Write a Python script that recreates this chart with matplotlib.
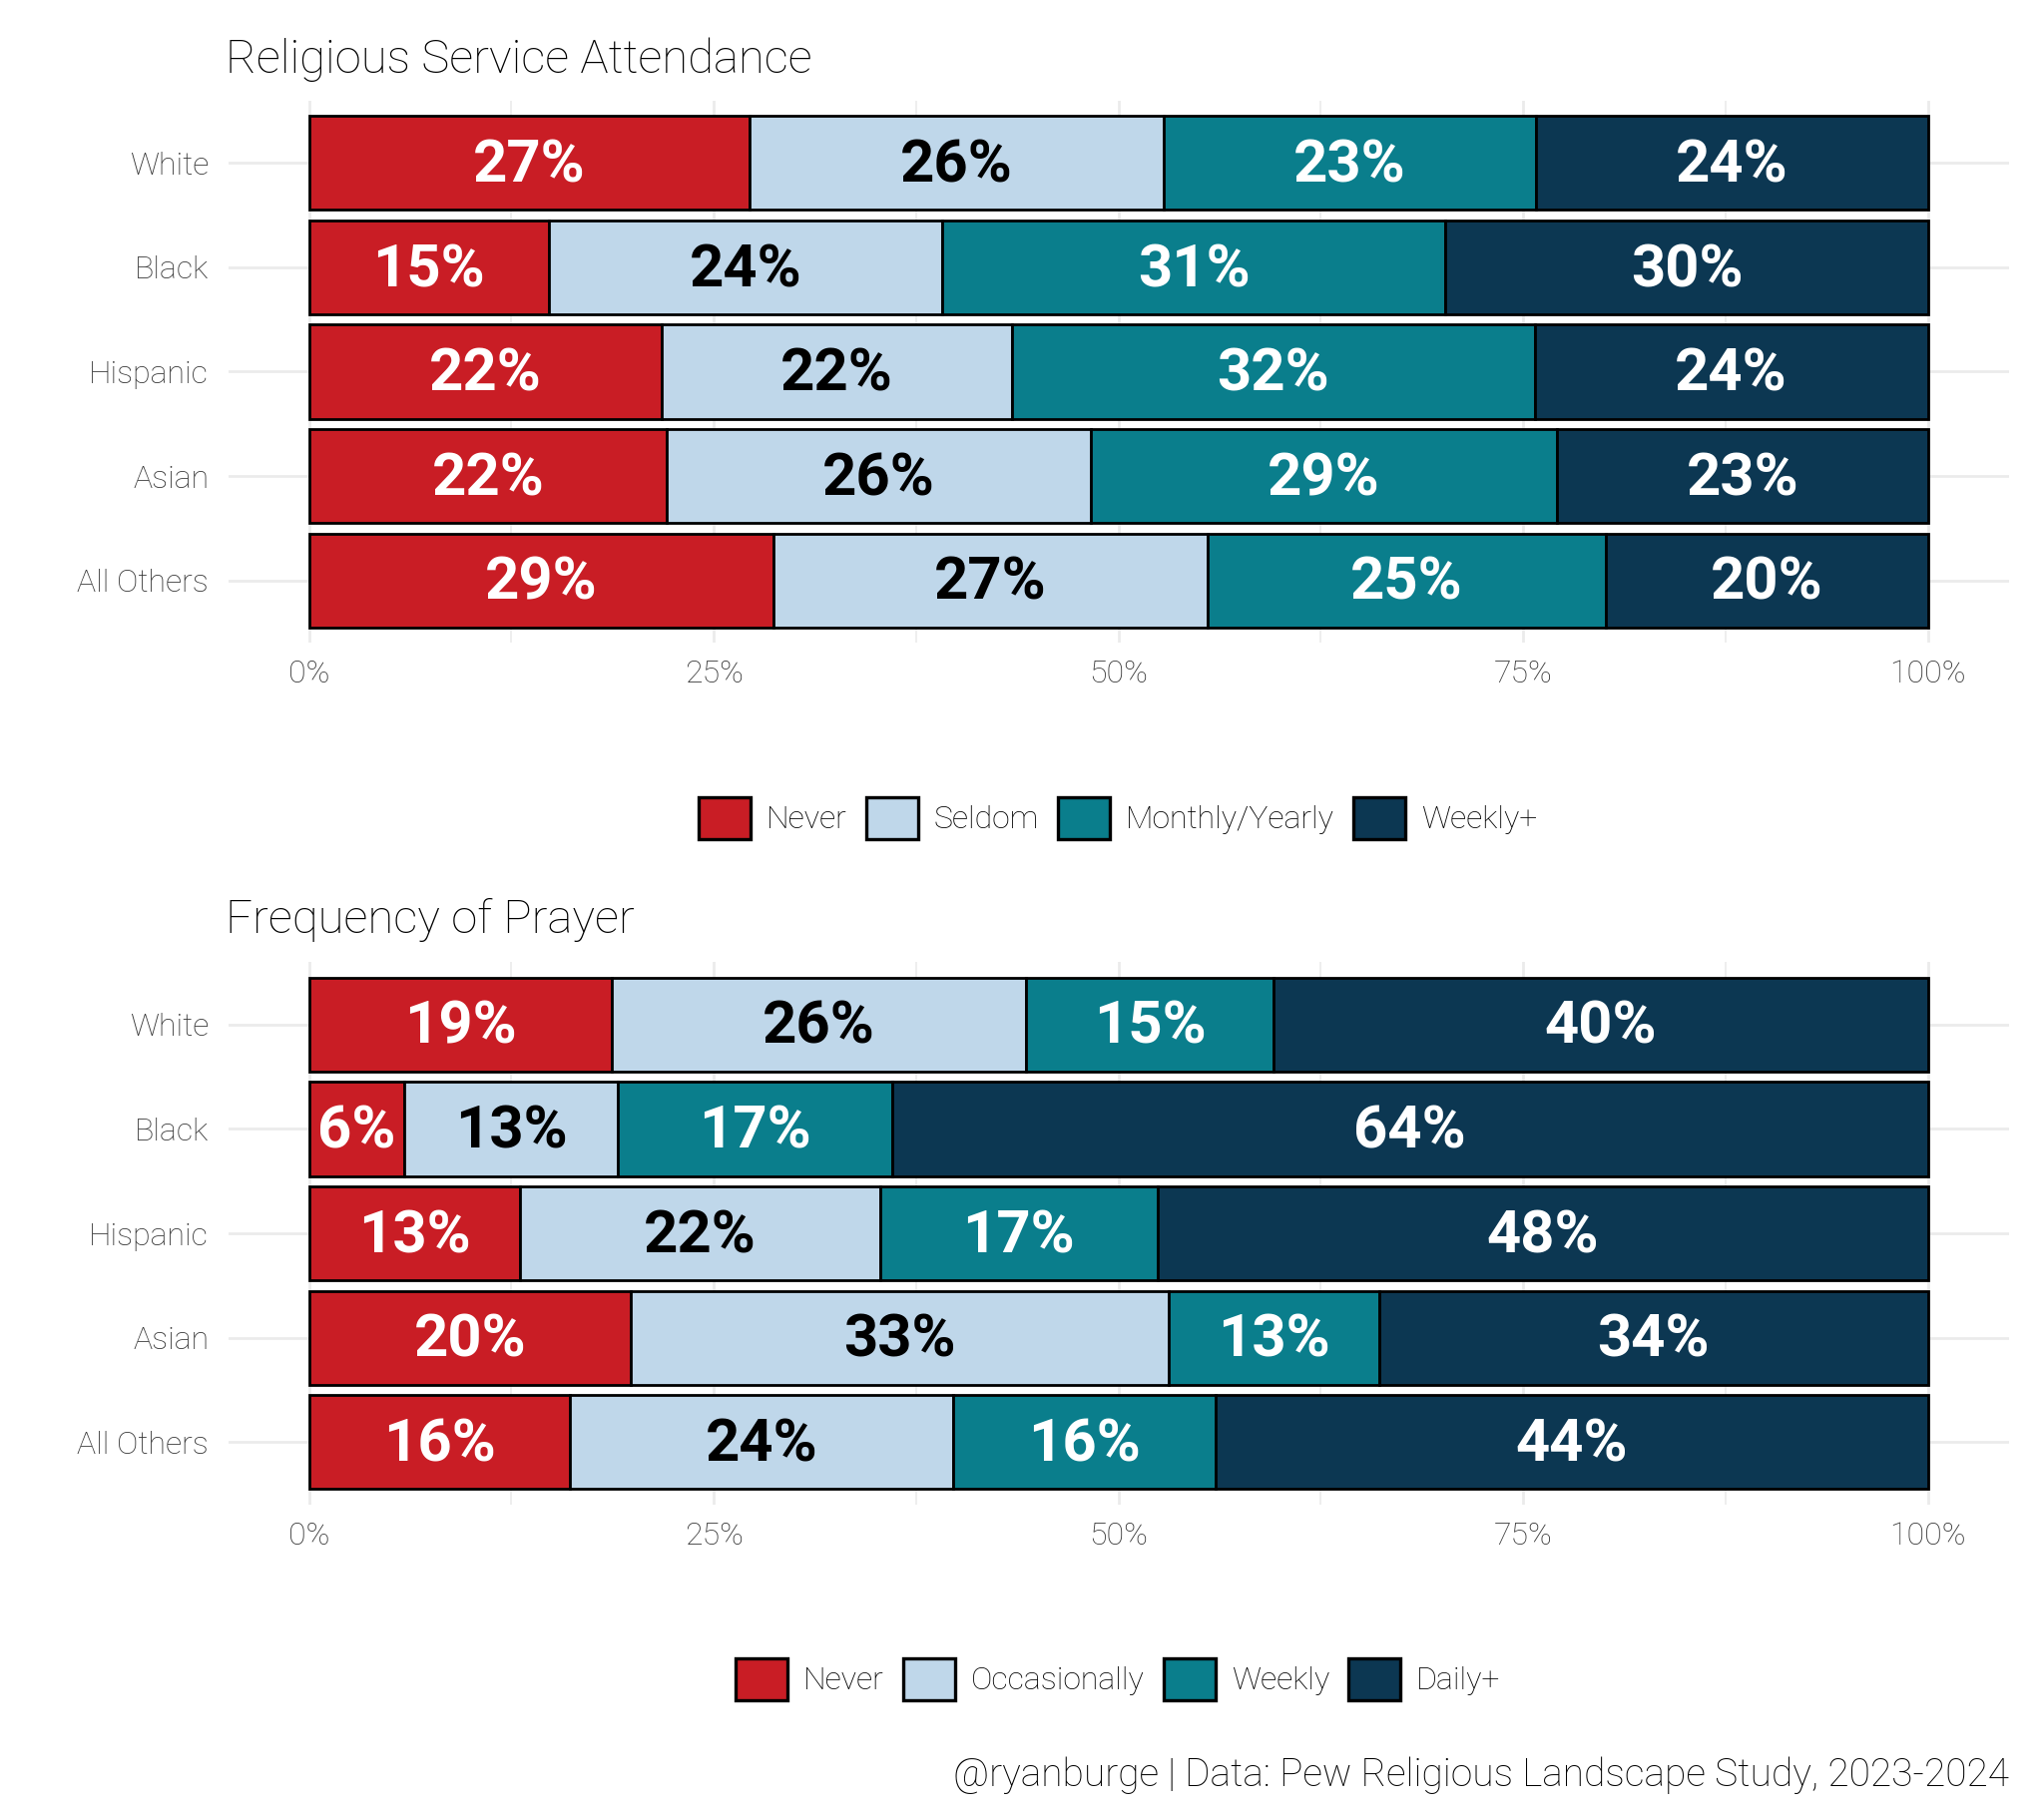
import matplotlib
matplotlib.use("Agg")
import matplotlib.pyplot as plt
from matplotlib.patches import Patch
import numpy as np

plt.rcParams['font.family'] = ['Roboto', 'DejaVu Sans']

groups = ["White", "Black", "Hispanic", "Asian", "All Others"]

attend_labels = ["Never", "Seldom", "Monthly/Yearly", "Weekly+"]
attend_never = [27.2, 14.8, 21.8, 22.1, 28.7]
attend_seldom = [25.6, 24.3, 21.6, 26.2, 26.8]
attend_monthly = [23.0, 31.1, 32.3, 28.8, 24.6]
attend_weekly = [24.2, 29.8, 24.3, 22.9, 19.9]

prayer_labels = ["Never", "Occasionally", "Weekly", "Daily+"]
prayer_never = [18.7, 5.9, 13.0, 19.9, 16.1]
prayer_occas = [25.6, 13.2, 22.3, 33.2, 23.7]
prayer_weekly = [15.3, 16.9, 17.1, 13.0, 16.2]
prayer_daily = [40.4, 64.0, 47.6, 33.9, 44.0]

x_ticks = [0, 0.25, 0.5, 0.75, 1.0]
x_ticklabels = ["0%", "25%", "50%", "75%", "100%"]

colors = ["#C91D25", "#BFD7EA", "#0A7E8C", "#0C3752"]
text_colors = ["white", "black", "white", "white"]

fig = plt.figure(figsize=(10.24, 9.1), dpi=200)

def panel(rect, series, labels, title, title_y, legend_y):
    ax = fig.add_axes(rect)
    ypos = np.arange(len(groups))[::-1]
    data = np.array(series) / 100.0
    totals = data.sum(axis=0)
    data = data / totals
    left = np.zeros(len(groups))
    for i, vals in enumerate(data):
        ax.barh(ypos, vals, left=left, height=0.9, color=colors[i],
                edgecolor="black", linewidth=1.0, zorder=3)
        for j, v in enumerate(vals):
            ax.text(left[j] + v / 2, ypos[j] - 0.03, f"{series[i][j]:.0f}%",
                    ha="center", va="center", fontsize=21.5, fontweight="bold",
                    color=text_colors[i], zorder=4)
        left = left + vals
    ax.set_xlim(-0.05, 1.05)
    ax.set_ylim(-0.6, len(groups) - 0.4)
    ax.set_yticks(ypos)
    ax.set_yticklabels(groups, fontweight="light")
    ax.set_xticks(x_ticks)
    ax.set_xticklabels(x_ticklabels, fontweight="light")
    ax.set_xticks([0.125, 0.375, 0.625, 0.875], minor=True)
    ax.tick_params(axis="both", length=0, labelsize=11.5, colors="#333333")
    ax.tick_params(axis="x", which="minor", length=0)
    ax.tick_params(axis="x", pad=6)
    ax.tick_params(axis="y", pad=7)
    ax.grid(True, which="major", color="#EBEBEB", linewidth=1.0, zorder=0)
    ax.grid(True, which="minor", axis="x", color="#EBEBEB", linewidth=0.6, zorder=0)
    ax.set_axisbelow(True)
    for s in ax.spines.values():
        s.set_visible(False)
    fig.text(0.1104, title_y, title, ha="left", va="center", fontsize=17,
             fontweight="light", color="black")
    handles = [Patch(facecolor=c, edgecolor="black", linewidth=1.2) for c in colors]
    fig.legend(handles, labels, loc="center", bbox_to_anchor=(0.547, legend_y),
               ncol=4, frameon=False, prop={"size": 11.5, "weight": "light"},
               labelcolor="black",
               handlelength=1.63, handleheight=1.63, handletextpad=0.5,
               columnspacing=0.6)
    return ax

panel([0.1116, 0.646, 0.8712, 0.2987],
      [attend_never, attend_seldom, attend_monthly, attend_weekly],
      attend_labels, "Religious Service Attendance", 0.9672, 0.5495)
panel([0.1116, 0.1714, 0.8712, 0.2989],
      [prayer_never, prayer_occas, prayer_weekly, prayer_daily],
      prayer_labels, "Frequency of Prayer", 0.4932, 0.0753)

fig.text(0.983, 0.0225, "@ryanburge | Data: Pew Religious Landscape Study, 2023-2024",
         ha="right", va="center", fontsize=14, fontweight="light", color="black")

fig.savefig("out.png", dpi=200, facecolor="white")
